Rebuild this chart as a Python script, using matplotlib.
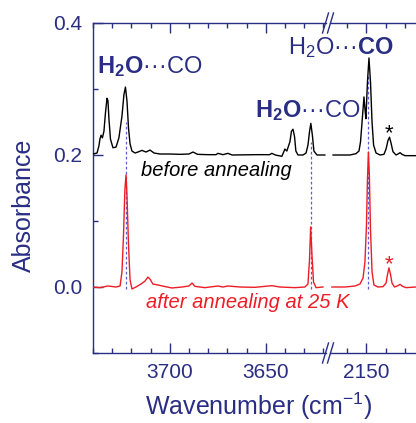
import matplotlib
matplotlib.use("Agg")
import matplotlib.pyplot as plt
from matplotlib.lines import Line2D
from matplotlib.ticker import MultipleLocator, FormatStrFormatter

plt.rcParams["font.family"] = ["Liberation Sans", "DejaVu Sans"]
plt.rcParams["mathtext.fontset"] = "custom"
plt.rcParams["mathtext.rm"] = "Liberation Sans"
plt.rcParams["mathtext.bf"] = "Liberation Sans:bold"
plt.rcParams["mathtext.it"] = "Liberation Sans:italic"

NAVY = "#2a2e83"
RED = "#ee1c25"
DASH = "#5a5fcc"

# O-H stretch region, before annealing
wn_oh_before = [3740.0, 3737.9, 3736.9, 3736.4, 3735.8, 3735.1, 3734.3, 3733.5, 3732.7, 3732.2,
                3731.7, 3730.9, 3729.6, 3728.0, 3726.5, 3724.9, 3723.9, 3723.1, 3722.3, 3721.5,
                3720.7, 3719.7, 3718.1, 3716.6, 3714.5, 3712.4, 3710.3, 3708.2, 3705.1, 3699.9,
                3694.7, 3690.0, 3687.9, 3685.5, 3680.0, 3675.9, 3674.9, 3672.3, 3669.7, 3667.5,
                3655.0, 3648.0, 3646.8, 3645.0, 3641.6, 3640.0, 3639.0, 3637.4, 3636.6, 3635.8,
                3635.0, 3634.3, 3633.2, 3630.6, 3629.0, 3628.0, 3627.2, 3626.5, 3625.7, 3624.9,
                3623.3, 3619.2]
abs_oh_before = [0.2015, 0.203, 0.214, 0.224, 0.230, 0.226, 0.236, 0.264, 0.286, 0.282,
                 0.255, 0.224, 0.211, 0.212, 0.226, 0.259, 0.291, 0.303, 0.282, 0.241,
                 0.217, 0.206, 0.203, 0.2045, 0.207, 0.2045, 0.2075, 0.203, 0.2015, 0.2015,
                 0.201, 0.2015, 0.2045, 0.201, 0.2005, 0.2005, 0.2025, 0.2005, 0.2025, 0.200,
                 0.2005, 0.2005, 0.2025, 0.200, 0.198, 0.209, 0.206, 0.220, 0.236, 0.239,
                 0.228, 0.206, 0.200, 0.200, 0.203, 0.215, 0.235, 0.248, 0.230, 0.206,
                 0.200, 0.200]

# O-H stretch region, after annealing at 25 K
wn_oh_after = [3740.0, 3736.4, 3732.2, 3728.0, 3725.9, 3724.9, 3724.1, 3723.4, 3722.8, 3722.3,
               3721.5, 3720.7, 3719.7, 3717.6, 3715.0, 3712.9, 3711.4, 3710.3, 3708.8, 3706.1,
               3703.0, 3698.9, 3693.6, 3690.0, 3688.4, 3686.9, 3681.7, 3674.9, 3672.3, 3669.7,
               3663.4, 3655.6, 3650.4, 3646.8, 3642.7, 3634.8, 3629.6, 3628.0, 3627.2, 3626.6,
               3625.9, 3625.1, 3623.8, 3620.2]
abs_oh_after = [0.000, -0.001, 0.0015, 0.000, 0.0015, 0.023, 0.079, 0.147, 0.170, 0.139,
                0.064, 0.011, -0.003, 0.000, 0.0045, 0.009, 0.015, 0.012, 0.0045, 0.003,
                0.001, -0.0015, 0.000, 0.0015, 0.006, 0.001, -0.001, 0.0015, 0.000, 0.0015,
                0.000, -0.0005, 0.001, 0.002, 0.000, -0.001, 0.000, 0.0045, 0.041, 0.091,
                0.048, 0.0075, -0.001, 0.000]

# C-O stretch region, before annealing
wn_co_before = [2167.4, 2158.6, 2155.5, 2153.9, 2153.1, 2152.3, 2151.3, 2150.8, 2150.3, 2149.5,
                2148.7, 2147.9, 2147.1, 2146.3, 2145.0, 2142.9, 2140.9, 2139.8, 2138.8, 2138.0,
                2137.2, 2136.2, 2134.6, 2133.3, 2132.5, 2131.5, 2129.9, 2124.2]
abs_co_before = [0.200, 0.200, 0.202, 0.206, 0.220, 0.250, 0.288, 0.270, 0.255, 0.310,
                 0.347, 0.310, 0.250, 0.215, 0.203, 0.200, 0.201, 0.209, 0.222, 0.227,
                 0.218, 0.205, 0.200, 0.202, 0.2035, 0.201, 0.199, 0.199]

# C-O stretch region, after annealing at 25 K
wn_co_after = [2168.0, 2161.2, 2156.0, 2153.4, 2151.8, 2150.8, 2150.0, 2149.5, 2149.0, 2148.5,
               2147.9, 2147.1, 2146.1, 2144.0, 2141.4, 2139.8, 2139.1, 2138.3, 2137.5, 2136.7,
               2135.4, 2133.6, 2132.5, 2131.2, 2129.4, 2124.2]
abs_co_after = [0.000, 0.000, 0.0015, 0.0045, 0.0135, 0.038, 0.094, 0.162, 0.2045, 0.170,
                0.086, 0.023, 0.003, 0.000, 0.0005, 0.006, 0.018, 0.029, 0.0195, 0.006,
                0.000, 0.002, 0.004, 0.001, -0.001, 0.000]

# guide lines linking bands in both spectra: (wavenumber, top)
guides_oh = [(3722.8, 0.25), (3626.5, 0.22)]
guides_co = [(2149.1, 0.32)]

W, H = 416, 423
fig = plt.figure(figsize=(W / 100, H / 100), dpi=100)


def px_box(x0, x1, y0, y1):
    return [x0 / W, 1 - y1 / H, (x1 - x0) / W, (y1 - y0) / H]


ax1 = fig.add_axes(px_box(93, 326, 23, 353))
ax2 = fig.add_axes(px_box(330, 416, 23, 353), sharey=ax1)
ax1.patch.set_visible(False)
ax2.patch.set_visible(False)

ax1.plot(wn_oh_before, abs_oh_before, color="black", lw=1.0, zorder=3)
ax1.plot(wn_oh_after, abs_oh_after, color=RED, lw=1.0, zorder=3)
ax2.plot(wn_co_before, abs_co_before, color="black", lw=1.0, zorder=3)
ax2.plot(wn_co_after, abs_co_after, color=RED, lw=1.0, zorder=3)

for ax, guides in ((ax1, guides_oh), (ax2, guides_co)):
    for x, top in guides:
        ax.plot([x, x], [-0.003, top], color=DASH, lw=0.9, dashes=(2.2, 1.8), zorder=2)

ax1.set_xlim(3740, 3618.6)
ax2.set_xlim(2169, 2124.2)
ax1.set_ylim(-0.1, 0.4)

ax1.xaxis.set_major_locator(MultipleLocator(50))
ax1.xaxis.set_minor_locator(MultipleLocator(10))
ax2.xaxis.set_major_locator(MultipleLocator(50))
ax2.xaxis.set_minor_locator(MultipleLocator(10))
ax1.yaxis.set_major_locator(MultipleLocator(0.2))
ax1.yaxis.set_minor_locator(MultipleLocator(0.1))
ax1.yaxis.set_major_formatter(FormatStrFormatter("%.1f"))

for ax in (ax1, ax2):
    for sp in ax.spines.values():
        sp.set_color(NAVY)
        sp.set_linewidth(1.0)
    ax.tick_params(which="both", direction="in", top=True, color=NAVY, width=1.0,
                   labelcolor=NAVY, labelsize=15)
    ax.tick_params(which="major", length=7.2)
    ax.tick_params(which="minor", length=3.6)
    ax.tick_params(axis="x", pad=7)
    ax.tick_params(axis="y", pad=8)

ax1.spines["right"].set_visible(False)
ax2.spines["left"].set_visible(False)
ax2.spines["right"].set_visible(False)
ax2.tick_params(axis="y", which="both", left=False, labelleft=False)

# axis break marks
for yp in (23, 353):
    for xc in (325.5, 330.5):
        fig.add_artist(Line2D([(xc - 3) / W, (xc + 3) / W],
                              [1 - (yp + 10) / H, 1 - (yp - 10) / H],
                              color=NAVY, lw=1.0))

# band assignments
ax1.text(3737.9, 0.324, r"$\mathbf{H_2O}$···CO", color=NAVY, fontsize=17,
         ha="left", va="baseline")
ax1.text(3655.6, 0.2576, r"$\mathbf{H_2O}$···CO", color=NAVY, fontsize=17,
         ha="left", va="baseline")
ax1.text(3638.4, 0.353, r"H$_2$O···$\mathbf{CO}$", color=NAVY, fontsize=17,
         ha="left", va="baseline")

ax2.text(2138.3, 0.224, "*", color="black", fontsize=16, ha="center", va="baseline")
ax2.text(2138.3, 0.026, "*", color=RED, fontsize=16, ha="center", va="baseline")

ax1.text(3675.9, 0.176, "before annealing", color="black", fontsize=14.5,
         style="italic", ha="center", va="center")
ax1.text(3659.3, -0.024, "after annealing at 25 K", color=RED, fontsize=14.5,
         style="italic", ha="center", va="center")

fig.text(24 / W, 1 - 205.5 / H, "Absorbance", rotation=90, color=NAVY,
         fontsize=18, ha="center", va="center")
fig.text(259 / W, 1 - 415 / H, r"Wavenumber (cm$^{-1}$)", color=NAVY,
         fontsize=18, ha="center", va="baseline")

fig.savefig("out.png", dpi=100)
